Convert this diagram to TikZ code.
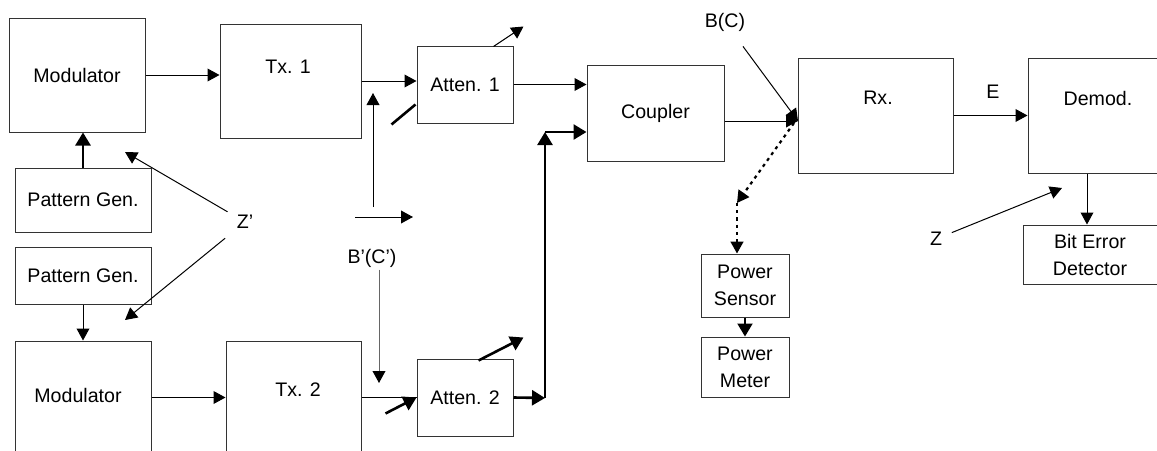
\documentclass[tikz,border=0pt]{standalone}
\usepackage{fontspec}
\setmainfont{Liberation Sans}
\usetikzlibrary{arrows.meta,calc}
\begin{document}
\begin{tikzpicture}[x=0.5pt,y=-0.5pt,
  box/.style={draw=black!80,line width=0.5pt,inner sep=0pt,font=\fontsize{9.8}{13.5}\selectfont,align=center},
  lbl/.style={inner sep=1pt,font=\fontsize{9.8}{13.5}\selectfont,align=center},
  arr/.style={line width=0.5pt,-{Triangle[length=6pt,width=6.4pt]}},
  tarr/.style={line width=1.3pt,-{Triangle[length=6.5pt,width=7.5pt]}},
  tline/.style={line width=1.3pt},
  dotarr/.style={line width=1.1pt,dash pattern=on 1.6pt off 2pt,-{Triangle[length=6pt,width=6.4pt]}}]
\fill[white] (0,0) rectangle (1157,450);
\clip (0,0) rectangle (1157,450);

% boxes
\node[box,minimum width=68pt,minimum height=57pt] (mod1) at (77,75) {Modulator};
\node[box,minimum width=70.5pt,minimum height=57pt] (tx1) at (290.5,81) {};
\node[lbl] (tx1t) at (288,67) {Tx. 1};
\node[box,minimum width=48pt,minimum height=38.5pt] (atten1) at (465,84.5) {Atten. 1};
\node[box,minimum width=68.5pt,minimum height=48pt] (coupler) at (655.5,113) {Coupler};
\node[box,minimum width=77.5pt,minimum height=57.5pt] (rx) at (875.5,115.5) {};
\node[lbl] (rxt) at (878,98) {Rx.};
\node[box,minimum width=71pt,minimum height=57.5pt] (demod) at (1099,115.5) {};
\node[lbl] (demodt) at (1098,98) {Demod.};
\node[box,minimum width=73.5pt,minimum height=29.5pt] (bed) at (1096.5,254.5) {};
\node[lbl] (bedt) at (1090,255) {Bit Error\\Detector};
\node[box,minimum width=68pt,minimum height=32pt] (pg1) at (83,200) {Pattern Gen.};
\node[box,minimum width=68pt,minimum height=28.5pt] (pg2) at (83,275.5) {Pattern Gen.};
\node[box,minimum width=68pt,minimum height=64.5pt] (mod2) at (83,405.5) {};
\node[lbl] (mod2t) at (78,395) {Modulator};
\node[box,minimum width=67.5pt,minimum height=64.5pt] (tx2) at (293.5,405.5) {};
\node[lbl] (tx2t) at (298,390) {Tx. 2};
\node[box,minimum width=48pt,minimum height=38.5pt] (atten2) at (465,397.5) {Atten. 2};
\node[box,minimum width=44pt,minimum height=31.5pt] (ps) at (745,285.5) {Power\\Sensor};
\node[box,minimum width=44pt,minimum height=30pt] (pm) at (745,367) {Power\\Meter};

% labels
\node[lbl] (zp) at (245,222) {Z'};
\node[lbl] (bcp) at (372,258) {B'(C')};
\node[lbl] (bc) at (725,22) {B(C)};
\node[lbl] (e) at (993,92) {E};
\node[lbl] (z) at (936,239) {Z};

% coordinates
\coordinate (zpa) at (125,152);
\coordinate (zpb) at (125,320);
\coordinate (u0) at (373,207);
\coordinate (u1) at (373,93);
\coordinate (h0) at (355,217);
\coordinate (h1) at (413,217);
\coordinate (j1) at (545,398);
\coordinate (j2) at (545,132);
\coordinate (rxin) at (798,121);
\coordinate (pc) at (737,203);
\coordinate (bcptip) at (379,383);
\coordinate (ztip) at (1062,188);
\path (demod.south) ++(-12,0) coordinate (ds);

% upper chain
\draw[arr] (mod1.east) -- (mod1.east -| tx1.west);
\draw[tarr] (pg1.north) -- (pg1.north |- mod1.south);
\draw[arr] (tx1.east) -- (tx1.east -| atten1.west);
\draw[arr] (atten1.east) -- (atten1.east -| coupler.west);
\draw[tline] ($(atten1.south west)+(-25,1)$) -- ($(atten1.south west)+(-1,-19)$);
\draw[arr] ($(atten1.north east)+(-20,1)$) -- ($(atten1.north east)+(10,-19)$);

% Z' arrows
\draw[arr,shorten <=4pt] (zp) -- (zpa);
\draw[arr,shorten <=6pt] (zp) -- (zpb);

% free arrows in middle
\draw[arr] (u0) -- (u1);
\draw[arr] (h0) -- (h1);

% lower chain
\draw[arr] (pg2.south) -- (pg2.south |- mod2.north);
\draw[arr] (mod2.east |- atten2) -- (tx2.west |- atten2);
\draw[line width=0.5pt] (tx2.east |- atten2) -- (atten2.west);
\draw[tarr] ($(atten2.west)+(-31,16)$) -- (atten2.west);
\draw[tarr] ($(atten2.north east)+(-35,2)$) -- ($(atten2.north east)+(10,-21)$);
\draw[line width=0.5pt,draw=black!60,-{Triangle[length=6pt,width=6.4pt,black]}] (bcp.south -| bcptip) -- (bcptip);

% combining path
\draw[tarr] (atten2.east) -- (j1);
\draw[tarr] (j1) -- (j2);
\draw[tarr] (j2) -- (j2 -| coupler.west);

% receiver side
\draw[arr] (coupler.east |- rxin) -- (rxin);
\draw[arr,shorten <=8pt] (bc) -- (rxin);
\draw[dotarr] ($(rxin)+(-4,2)$) -- (pc);
\draw[dotarr] (pc) -- (pc |- ps.north);
\draw[tarr,line width=1pt] (ps.south) -- (pm.north);
\draw[arr] (rx.east) -- (rx.east -| demod.west);
\draw[arr] (ds) -- (ds |- bed.north);
\draw[arr,shorten <=4pt] (z) -- (ztip);
\end{tikzpicture}
\end{document}
